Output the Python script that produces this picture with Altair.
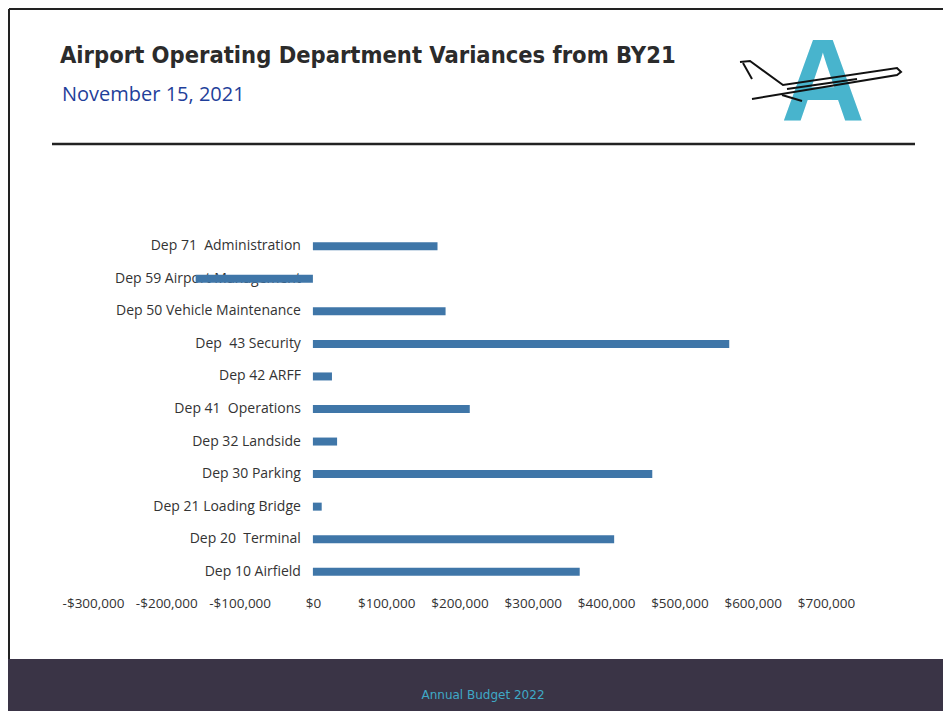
import altair as alt
import pandas as pd

departments = [
    "Dep 71\u00a0 Administration",
    "Dep 59 Airport Management",
    "Dep 50 Vehicle Maintenance",
    "Dep\u00a0 43 Security",
    "Dep 42 ARFF",
    "Dep 41\u00a0 Operations",
    "Dep 32 Landside",
    "Dep 30 Parking",
    "Dep 21 Loading Bridge",
    "Dep 20\u00a0 Terminal",
    "Dep 10 Airfield",
]
variances = [170000, -160000, 181000, 568000, 26000, 214000, 33000, 463000, 12000, 411000, 364000]
tick_values = [-300000, -200000, -100000, 0, 100000, 200000, 300000, 400000, 500000, 600000, 700000]

title_text = "Airport Operating Department Variances from BY21"
date_text = "November 15, 2021"
footer_text = "Annual Budget 2022"

# decorative logo outline (airplane strokes), pixel coordinates relative to plot origin
plane_seg = [0, 0, 0, 0, 0, 0, 0, 1, 1, 2, 2, 3, 3]
plane_px = [647, 657, 690, 804, 808, 804, 659, 650, 659, 694, 764, 689, 709]
plane_py = [-168, -169, -145, -162, -158, -155, -131, -167, -151, -141, -151, -135, -129]

df = pd.DataFrame({"dep": departments, "variance": variances})
one = pd.DataFrame({"k": [0]})
plane = pd.DataFrame({"seg": plane_seg, "px": plane_px, "py": plane_py, "o": list(range(len(plane_px)))})

xscale = alt.Scale(domain=[-300000, 700000], nice=False, zero=False)
yenc = alt.Y("dep:N", sort=None, axis=None, scale=alt.Scale(paddingInner=0.2, paddingOuter=0.1))

labels = alt.Chart(df).mark_text(
    align="right", baseline="middle", dx=-12, font="Open Sans", fontSize=14, color="#333333"
).encode(x=alt.datum(0, scale=xscale), y=yenc, text="dep:N")

bars = alt.Chart(df).mark_bar(size=8, color="#3f76a8").encode(
    x=alt.X(
        "variance:Q",
        scale=xscale,
        title=None,
        axis=alt.Axis(
            values=tick_values,
            grid=False,
            domain=False,
            ticks=False,
            labelFlush=False,
            labelOverlap=False,
            labelPadding=8,
            labelFont="Open Sans",
            labelFontSize=13.5,
            labelColor="#333333",
            labelExpr="datum.value < 0 ? '-$' + format(-datum.value, ',') : '$' + format(datum.value, ',')",
        ),
    ),
    y=yenc,
)

title = alt.Chart(one).mark_text(
    align="left", baseline="alphabetic", font="DejaVu Sans Condensed, Roboto", fontWeight="bold",
    fontSize=23.5, color="#2b2b2b"
).encode(x=alt.value(-33), y=alt.value(-167), text=alt.value(title_text))

date = alt.Chart(one).mark_text(
    align="left", baseline="alphabetic", font="Open Sans", fontSize=20, color="#1f3f9a"
).encode(x=alt.value(-31), y=alt.value(-129), text=alt.value(date_text))

sep = alt.Chart(one).mark_rule(color="#222222", strokeWidth=2.5).encode(
    x=alt.value(-41), x2=alt.value(822), y=alt.value(-86)
)
frame_top = alt.Chart(one).mark_rule(color="#222222", strokeWidth=2).encode(
    x=alt.value(-84), x2=alt.value(850), y=alt.value(-221)
)
frame_left = alt.Chart(one).mark_rule(color="#222222", strokeWidth=2).encode(
    x=alt.value(-84), y=alt.value(-221), y2=alt.value(430)
)

footer = alt.Chart(one).mark_rect(color="#3a3446").encode(
    x=alt.value(-85), x2=alt.value(850), y=alt.value(429), y2=alt.value(481)
)
footer_lbl = alt.Chart(one).mark_text(
    align="center", baseline="middle", font="DejaVu Sans", fontSize=12, color="#3fa9c6"
).encode(x=alt.value(390), y=alt.value(465), text=alt.value(footer_text))

logo_a = alt.Chart(one).mark_text(
    align="center", baseline="alphabetic", font="Liberation Sans", fontWeight="bold",
    fontSize=116, color="#48b4cd"
).encode(x=alt.value(730), y=alt.value(-109), text=alt.value("A"))

logo_plane = alt.Chart(plane).mark_line(color="#111111", strokeWidth=2).encode(
    x=alt.X("px:Q", scale=None),
    y=alt.Y("py:Q", scale=None),
    detail="seg:N",
    order="o:Q",
)

chart = alt.layer(
    frame_top, frame_left, sep, title, date, logo_a, logo_plane, footer, footer_lbl, labels, bars
).properties(
    width=733,
    height=358,
    padding={"left": 85, "top": 222, "right": 117, "bottom": 123},
    autosize=alt.AutoSizeParams(type="none"),
    background="white",
).configure_view(stroke=None)

chart.save("out.html", embed_options={"renderer": "svg", "actions": False})
